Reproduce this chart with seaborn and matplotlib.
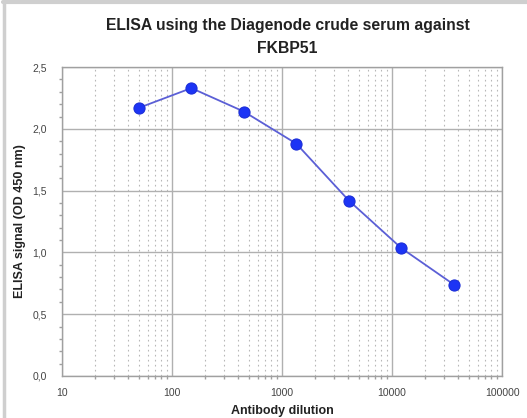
import numpy as np
import pandas as pd
import seaborn as sns
import matplotlib
matplotlib.use("Agg")
import matplotlib.pyplot as plt
from matplotlib.ticker import FixedLocator, FuncFormatter, LogLocator, NullFormatter, MultipleLocator

dilutions = [50, 150, 450, 1350, 4050, 12150, 36450]
signal = [2.17, 2.33, 2.14, 1.88, 1.42, 1.035, 0.74]
x_ticks = [10, 100, 1000, 10000, 100000]
y_ticks = [0.0, 0.5, 1.0, 1.5, 2.0, 2.5]
title_lines = ["ELISA using the Diagenode crude serum against", "FKBP51"]
xlabel = "Antibody dilution"
ylabel = "ELISA signal (OD 450 nm)"

df = pd.DataFrame({"dilution": dilutions, "signal": signal})

sns.set_theme(style="white")
plt.rcParams['font.family'] = ['Liberation Sans', 'DejaVu Sans']

fig = plt.figure(figsize=(5.27, 4.18), dpi=100)
ax = fig.add_axes([0.1176, 0.1005, 0.835, 0.739])

sns.lineplot(data=df, x="dilution", y="signal", ax=ax, color="#5b5fd6", linewidth=1.3,
             marker="o", markersize=8, markerfacecolor="#1c34f5", markeredgecolor="#1c2fd8",
             markeredgewidth=0.8)

ax.set_xscale("log")
ax.set_xlim(10, 100000)
ax.set_ylim(0, 2.5)
ax.xaxis.set_major_locator(FixedLocator(x_ticks))
ax.xaxis.set_major_formatter(FuncFormatter(lambda v, p: f"{int(round(v))}"))
ax.xaxis.set_minor_locator(LogLocator(base=10, subs=np.arange(2, 10)))
ax.xaxis.set_minor_formatter(NullFormatter())
ax.yaxis.set_major_locator(FixedLocator(y_ticks))
ax.yaxis.set_minor_locator(MultipleLocator(0.1))
ax.yaxis.set_major_formatter(FuncFormatter(lambda v, p: f"{v:.1f}".replace(".", ",")))

ax.grid(True, which="major", color="#b0b0b0", linewidth=1.0, linestyle="-")
ax.grid(True, which="minor", axis="x", color="#b8b8b8", linewidth=0.8, linestyle=(0, (1.5, 3)))
ax.set_axisbelow(True)

for s in ax.spines.values():
    s.set_color("#a0a0a0")
    s.set_linewidth(1.0)

ax.tick_params(axis="both", which="major", labelsize=7.5, colors="#444444", length=3, color="#a0a0a0")
ax.tick_params(axis="y", which="minor", left=True, length=2, color="#a0a0a0")
ax.tick_params(axis="x", which="minor", bottom=True, length=2, color="#a0a0a0")
ax.tick_params(axis="x", which="major", pad=6)
ax.tick_params(axis="y", which="major", pad=8)

ax.set_xlabel(xlabel, fontsize=9, fontweight="bold", color="#222222")
ax.set_ylabel(ylabel, fontsize=9, fontweight="bold", color="#222222")
ax.xaxis.set_label_coords(0.5, -0.094)
ax.yaxis.set_label_coords(-0.082, 0.5)

fig.text(0.5455, 0.9282, title_lines[0], ha="center", va="baseline", fontsize=11.3,
         fontweight="bold", color="#222222")
fig.text(0.5455, 0.8732, title_lines[1], ha="center", va="baseline", fontsize=11.3,
         fontweight="bold", color="#222222")

# image frame (left and top)
fig.add_artist(plt.Line2D([0.008, 0.008], [0, 0.995], transform=fig.transFigure, color="#cfcfcf", linewidth=2.5))
fig.add_artist(plt.Line2D([0.006, 1.0], [0.995, 0.995], transform=fig.transFigure, color="#cfcfcf", linewidth=3))

fig.savefig("out.png", dpi=100)
